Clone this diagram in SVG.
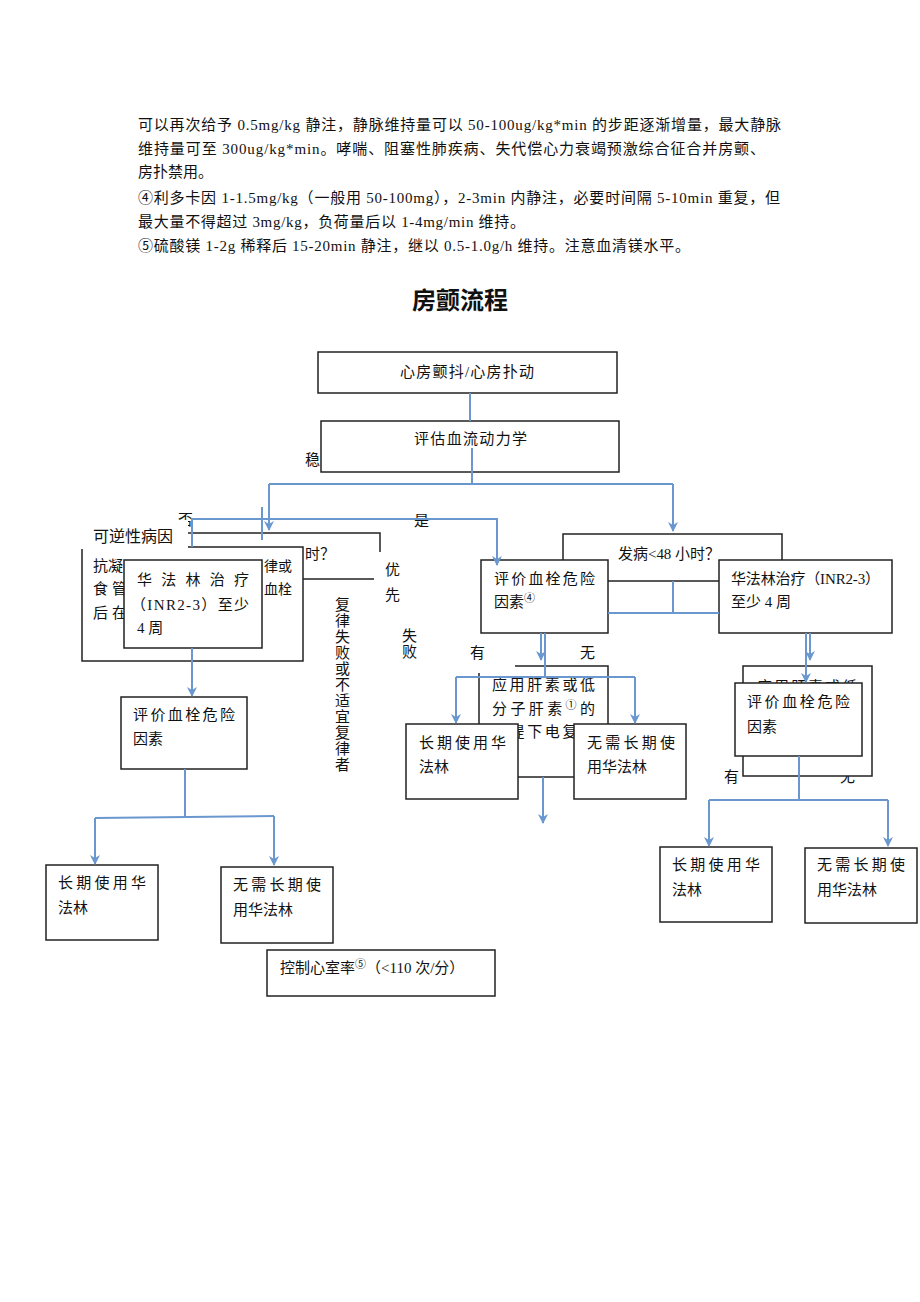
<svg xmlns="http://www.w3.org/2000/svg" width="920" height="1302" viewBox="0 0 920 1302">
<style>
.t{font-family:"Liberation Serif","Noto Sans CJK SC",serif;font-size:15px;fill:#111}
.b{fill:#fff;stroke:#222;stroke-width:1.5}
.w{fill:#fff;stroke:none}
.c{fill:none;stroke:#6b97cf;stroke-width:2}
.a{fill:none;stroke:#6b97cf;stroke-width:2;marker-end:url(#ar)}
.sup{font-size:11px}
</style>
<defs>
<marker id="ar" markerUnits="userSpaceOnUse" markerWidth="10" markerHeight="10" refX="9" refY="5" orient="auto">
<path d="M0,0 L10,5 L0,10 L3,5 z" fill="#6b97cf"/>
</marker>
</defs>
<rect width="920" height="1302" fill="#fff"/>
<g id="para">
<text class="t" x="138" y="130" textLength="643" lengthAdjust="spacing">可以再次给予 0.5mg/kg 静注，静脉维持量可以 50-100ug/kg*min 的步距逐渐增量，最大静脉</text>
<text class="t" x="138" y="154" textLength="627" lengthAdjust="spacing">维持量可至 300ug/kg*min。哮喘、阻塞性肺疾病、失代偿心力衰竭预激综合征合并房颤、</text>
<text class="t" x="138" y="177">房扑禁用。</text>
<text class="t" x="138" y="203" textLength="642" lengthAdjust="spacing">④利多卡因 1-1.5mg/kg（一般用 50-100mg），2-3min 内静注，必要时间隔 5-10min 重复，但</text>
<text class="t" x="138" y="227" textLength="387" lengthAdjust="spacing">最大量不得超过 3mg/kg，负荷量后以 1-4mg/min 维持。</text>
<text class="t" x="138" y="251" textLength="552" lengthAdjust="spacing">⑤硫酸镁 1-2g 稀释后 15-20min 静注，继以 0.5-1.0g/h 维持。注意血清镁水平。</text>
<text x="460" y="309" text-anchor="middle" style="font-family:'Noto Sans CJK SC',sans-serif;font-size:24px;font-weight:bold;fill:#111">房颤流程</text>
</g>
<g id="n1"><rect class="b" x="318" y="352" width="299" height="41"/><text class="t" x="400" y="377" textLength="134" lengthAdjust="spacing">心房颤抖/心房扑动</text></g>
<g id="n2"><rect class="b" x="321" y="421" width="298" height="51"/><text class="t" x="414" y="444" textLength="113" lengthAdjust="spacing">评估血流动力学</text></g>
<g id="lblWen"><text class="t" x="305" y="465">稳</text></g>
<g id="lblFou"><text class="t" x="178" y="525">否</text></g>
<g id="nB"><rect class="b" x="186" y="533" width="194" height="46"/><text class="t" x="305" y="559">时？</text></g>
<g id="nA"><rect class="b" x="82" y="547" width="221" height="114"/>
<text class="t" x="93" y="571">抗凝</text><text class="t" x="264" y="571" style="font-size:14px">律或</text>
<text class="t" x="93" y="594" textLength="34" lengthAdjust="spacing">食管</text><text class="t" x="264" y="594" style="font-size:14px">血栓</text>
<text class="t" x="93" y="618" textLength="34" lengthAdjust="spacing">后在</text></g>
<g id="lblKeni"><rect class="w" x="80" y="520" width="108" height="29"/><text class="t" x="93" y="542" style="font-size:16px">可逆性病因</text></g>
<g id="nC"><rect class="b" x="124" y="560" width="138" height="88"/>
<text class="t" x="137" y="585" textLength="112" lengthAdjust="spacing">华法林治疗</text>
<text class="t" x="131" y="610" textLength="118" lengthAdjust="spacing">（INR2-3）至少</text>
<text class="t" x="137" y="633">4 周</text></g>
<g id="lblYouxian"><rect class="w" x="374" y="552" width="36" height="60"/><text class="t" x="385" y="575">优</text><text class="t" x="385" y="600">先</text></g>
<g id="lblFail"><text class="t" x="402" y="641">失</text><text class="t" x="402" y="657">败</text></g>
<g id="lblFailV">
<text class="t" x="335" y="610">复</text><text class="t" x="335" y="626">律</text><text class="t" x="335" y="642">失</text><text class="t" x="335" y="658">败</text><text class="t" x="335" y="674">或</text><text class="t" x="335" y="690">不</text><text class="t" x="335" y="706">适</text><text class="t" x="335" y="722">宜</text><text class="t" x="335" y="738">复</text><text class="t" x="335" y="754">律</text><text class="t" x="335" y="770">者</text></g>
<g id="lblShi"><text class="t" x="414" y="526">是</text></g>
<g id="nE"><rect class="b" x="563" y="534" width="219" height="47"/><text class="t" x="618" y="559" textLength="102" lengthAdjust="spacing">发病&lt;48 小时？</text></g>
<g id="nF"><rect class="b" x="481" y="560" width="127" height="73"/><text class="t" x="494" y="584" textLength="101" lengthAdjust="spacing">评价血栓危险</text><text class="t" x="494" y="607">因素<tspan class="sup" dy="-5">④</tspan></text></g>
<g id="nG"><rect class="b" x="719" y="560" width="173" height="73"/><text class="t" x="731" y="584" textLength="149" lengthAdjust="spacing">华法林治疗（INR2-3）</text><text class="t" x="731" y="607">至少 4 周</text></g>
<g id="lblYou1"><text class="t" x="470" y="658">有</text></g>
<g id="lblWu1"><text class="t" x="580" y="658">无</text></g>
<g id="nD"><rect class="b" x="479" y="666" width="129" height="111"/>
<text class="t" x="492" y="690" textLength="103" lengthAdjust="spacing">应用肝素或低</text>
<text class="t" x="492" y="714" textLength="103" lengthAdjust="spacing">分子肝素<tspan class="sup" dy="-5">①</tspan><tspan dy="5">的</tspan></text>
<text class="t" x="492" y="737" textLength="103" lengthAdjust="spacing">前提下电复律</text></g>
<g id="lblCover"><rect class="w" x="462" y="662" width="53" height="11"/></g>
<g id="nH"><rect class="b" x="406" y="724" width="112" height="75"/><text class="t" x="419" y="748" textLength="87" lengthAdjust="spacing">长期使用华</text><text class="t" x="419" y="772">法林</text></g>
<g id="nI"><rect class="b" x="574" y="724" width="112" height="75"/><text class="t" x="587" y="748" textLength="88" lengthAdjust="spacing">无需长期使</text><text class="t" x="587" y="772">用华法林</text></g>
<g id="lblYou2"><text class="t" x="724" y="782">有</text></g>
<g id="lblWu2"><text class="t" x="840" y="782">无</text></g>
<g id="nK"><rect class="b" x="743" y="666" width="129" height="110"/><text class="t" x="757" y="692" textLength="100" lengthAdjust="spacing">应用肝素或低</text></g>
<g id="nJ"><rect class="b" x="735" y="683" width="127" height="73"/><text class="t" x="747" y="707" textLength="103" lengthAdjust="spacing">评价血栓危险</text><text class="t" x="747" y="732">因素</text></g>
<g id="nL"><rect class="b" x="660" y="847" width="112" height="75"/><text class="t" x="672" y="870" textLength="88" lengthAdjust="spacing">长期使用华</text><text class="t" x="672" y="895">法林</text></g>
<g id="nM"><rect class="b" x="805" y="848" width="112" height="75"/><text class="t" x="817" y="870" textLength="88" lengthAdjust="spacing">无需长期使</text><text class="t" x="817" y="895">用华法林</text></g>
<g id="nN"><rect class="b" x="121" y="697" width="126" height="72"/><text class="t" x="133" y="720" textLength="102" lengthAdjust="spacing">评价血栓危险</text><text class="t" x="133" y="744">因素</text></g>
<g id="nO"><rect class="b" x="46" y="865" width="112" height="75"/><text class="t" x="58" y="888" textLength="88" lengthAdjust="spacing">长期使用华</text><text class="t" x="58" y="913">法林</text></g>
<g id="nP"><rect class="b" x="221" y="867" width="112" height="76"/><text class="t" x="233" y="890" textLength="88" lengthAdjust="spacing">无需长期使</text><text class="t" x="233" y="915">用华法林</text></g>
<g id="nQ"><rect class="b" x="267" y="950" width="228" height="46"/><text class="t" x="280" y="973">控制心室率<tspan class="sup" dy="-5">⑤</tspan><tspan dy="5">（&lt;110 次/分）</tspan></text></g>
<g id="connectors">
<path class="c" d="M470,393 V421"/>
<path class="c" d="M472,448 V484"/>
<path class="c" d="M269,484 H673"/>
<path class="a" d="M269,484 V530"/>
<path class="a" d="M673,484 V531"/>
<path class="c" d="M262,507 V540"/>
<path class="a" d="M192,547 V519 H497 V565"/>
<path class="c" d="M673,581 V613"/>
<path class="c" d="M608,613 H719"/>
<path class="a" d="M541,633 V660"/>
<path class="c" d="M545,633 V677"/>
<path class="c" d="M456,677 H635"/>
<path class="a" d="M456,677 V723"/>
<path class="a" d="M635,677 V723"/>
<path class="a" d="M543,777 V823"/>
<path class="a" d="M810,633 V660"/>
<path class="a" d="M806,633 V682"/>
<path class="c" d="M799,756 V800"/>
<path class="c" d="M709,800 H888"/>
<path class="a" d="M709,800 V846"/>
<path class="a" d="M888,800 V846"/>
<path class="a" d="M192,648 V696"/>
<path class="c" d="M185,769 V816"/>
<path class="c" d="M95,818 L274,816"/>
<path class="a" d="M95,818 V864"/>
<path class="a" d="M274,816 V865"/>
</g>
</svg>
